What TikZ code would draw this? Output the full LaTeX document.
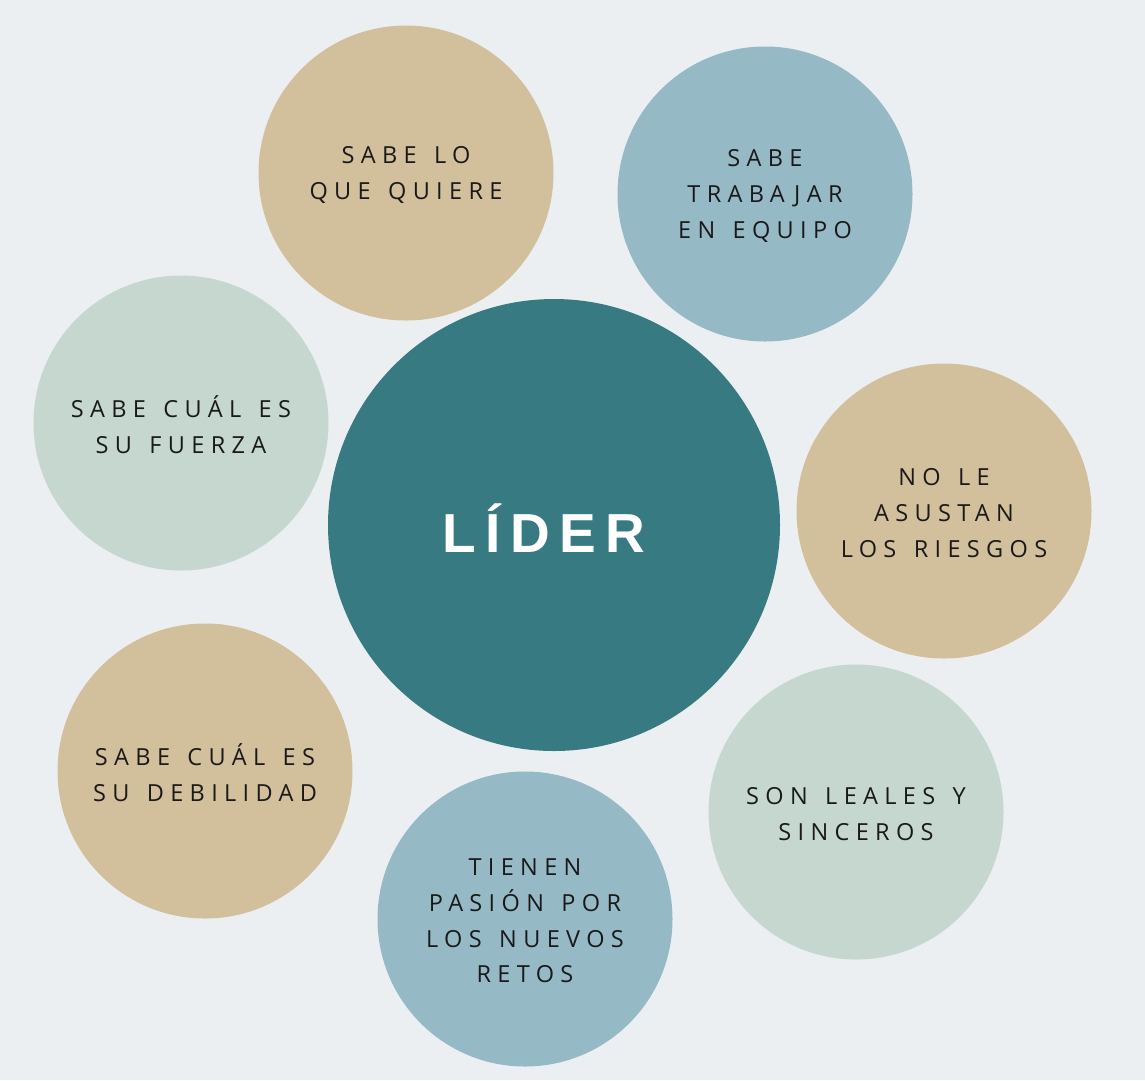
\documentclass[tikz,border=0pt]{standalone}
\usepackage{fontspec}
\newfontfamily\labelfont[LetterSpace=27,WordSpace=1.4]{Open Sans}
\newfontfamily\titlefont[LetterSpace=17]{Liberation Sans}
\definecolor{bg}{RGB}{235,239,242}
\definecolor{tan}{RGB}{210,191,156}
\definecolor{bluegray}{RGB}{150,186,197}
\definecolor{sage}{RGB}{197,215,207}
\definecolor{teal}{RGB}{56,122,130}
\begin{document}
\begin{tikzpicture}[x=1pt,y=-1pt,
  bubble/.style={circle,minimum size=295pt,inner sep=0pt},
  btext/.style={align=center,inner sep=0pt,yshift=-2pt,
    text=black!90,font=\labelfont\fontsize{23.5}{35.7}\selectfont},
  hub/.style={circle,fill=teal,minimum size=452pt,inner sep=0pt},
  htext/.style={inner sep=0pt,text=white,
    font=\titlefont\bfseries\fontsize{55}{60}\selectfont}]
\fill[bg] (0,0) rectangle (1145,1080);
\useasboundingbox (0,0) rectangle (1145,1080);
\node[hub] (lider) at (554,525) {};
\node[htext] (lidert) at (544,528) {LÍDER};
\node[bubble,fill=tan] (quiere) at (406,173) {};
\node[btext] (quieret) at (quiere) {SABE LO\\QUE QUIERE};
\node[bubble,fill=bluegray] (equipo) at (765,194) {};
\node[btext] (equipot) at (equipo) {SABE\\TRABAJAR\\EN EQUIPO};
\node[bubble,fill=sage] (fuerza) at (181,423) {};
\node[btext] (fuerzat) at (fuerza) {SABE CUÁL ES\\SU FUERZA};
\node[bubble,fill=tan] (riesgos) at (944,511) {};
\node[btext] (riesgost) at (riesgos) {NO LE\\ASUSTAN\\LOS RIESGOS};
\node[bubble,fill=tan] (debilidad) at (205,771) {};
\node[btext] (debilidadt) at (debilidad) {SABE CUÁL ES\\SU DEBILIDAD};
\node[bubble,fill=sage] (leales) at (856,812) {};
\node[btext] (lealest) at (leales) {SON LEALES Y\\SINCEROS};
\node[bubble,fill=bluegray] (retos) at (525,919) {};
\node[btext] (retost) at (retos) {TIENEN\\PASIÓN POR\\LOS NUEVOS\\RETOS};
\end{tikzpicture}
\end{document}
